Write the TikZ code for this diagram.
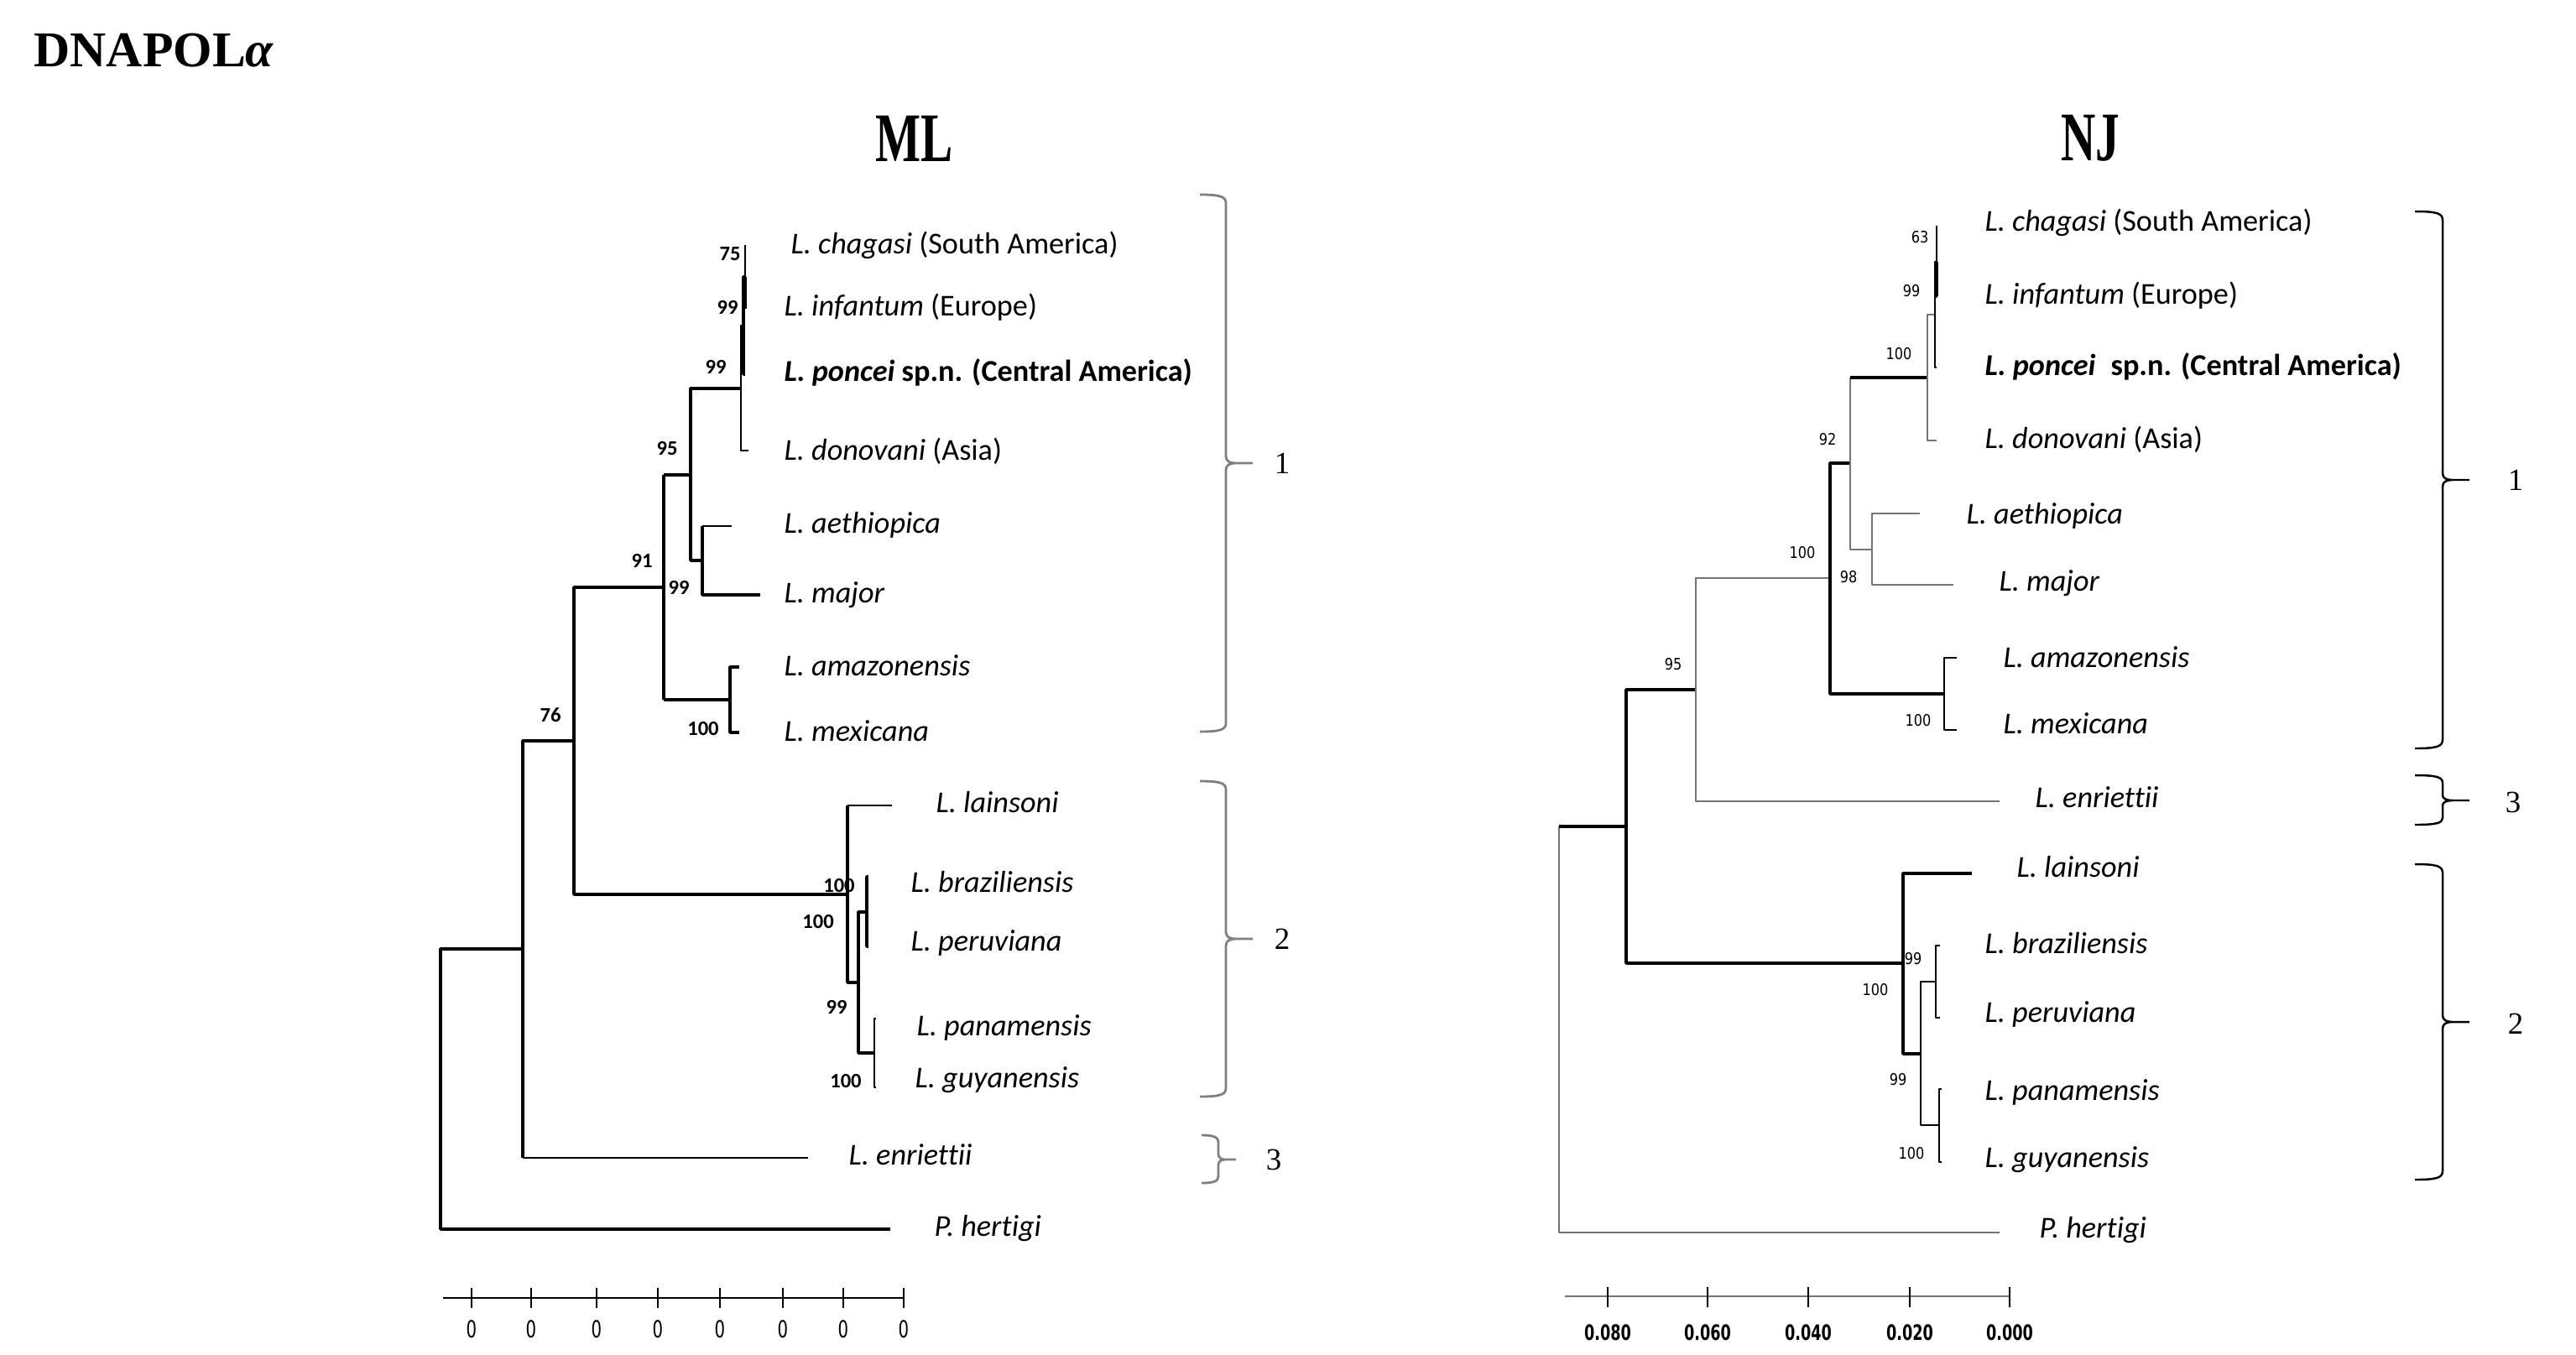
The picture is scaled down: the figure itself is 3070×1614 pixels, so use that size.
\documentclass[tikz,border=0pt]{standalone}
\usepackage{fontspec}
\setmainfont[Ligatures=NoCommon]{Carlito}
\newfontfamily\ttlfont{Liberation Serif}
\newfontfamily\hdfont[FakeStretch=0.69]{Liberation Serif}
\newfontfamily\bsfont[FakeStretch=0.85]{DejaVu Sans}
\newfontfamily\axfont[FakeStretch=0.7]{DejaVu Sans}

\begin{document}
\begin{tikzpicture}[x=0.1mm,y=-0.1mm,line join=bevel,
  leaf/.style={anchor=west,inner sep=0pt,text height=0.7em,text depth=0.2em,font=\fontsize{10.3}{12}\selectfont},
  bsml/.style={inner sep=0pt,font=\fontsize{7}{8}\selectfont\bfseries},
  bsnj/.style={inner sep=0pt,font=\bsfont\fontsize{5.4}{6}\selectfont},
  axml/.style={inner sep=0pt,font=\axfont\fontsize{8}{9}\selectfont},
  axnj/.style={inner sep=0pt,font=\axfont\bfseries\fontsize{7.2}{8}\selectfont},
  head/.style={inner sep=0pt,font=\hdfont\bfseries\fontsize{23.6}{26}\selectfont},
  cladeno/.style={inner sep=0pt,font=\ttlfont\fontsize{10.5}{12}\selectfont},
  thinbr/.style={line width=0.55pt},
  midbr/.style={line width=0.9pt},
  thickbr/.style={line width=1.3pt},
  greybr/.style={line width=0.55pt,draw=black!55},
  mlbrace/.style={line width=0.8pt,draw=black!50},
  njbrace/.style={line width=0.7pt},
]
\useasboundingbox (0,0) rectangle (3070,1614);
%%
\node[inner sep=0pt,anchor=west,font=\ttlfont\bfseries\fontsize{17}{20}\selectfont] (title) at (40,60) {DNAPOL\textit{α}};
\node[head] (mlhead) at (1090,165) {ML};
\node[head] (njhead) at (2491,165) {NJ};
%
% ML tree
\coordinate (rootML) at (525,1298);
\coordinate (gML) at (623,1131);
\coordinate (fML) at (684,883);
\coordinate (eML) at (791,700);
\coordinate (dML) at (823,566);
\coordinate (cML) at (883,463);
\coordinate (bML) at (886,388);
\coordinate (aML) at (888,330);
\coordinate (amML) at (837,668);
\coordinate (axML) at (870,834);
\coordinate (hML) at (1010,1066);
\coordinate (jML) at (1023,1171);
\coordinate (iML) at (1033,1087);
\coordinate (kML) at (1042,1255);
\coordinate (tChaML) at (888,292);
\coordinate (tInfML) at (888,368);
\coordinate (tPonML) at (888,446);
\coordinate (tDonML) at (892,537);
\coordinate (tAetML) at (872,627);
\coordinate (tMajML) at (906,709);
\coordinate (tAmaML) at (881,795);
\coordinate (tMexML) at (881,873);
\coordinate (tLaiML) at (1063,960);
\coordinate (tBraML) at (1035,1045);
\coordinate (tPerML) at (1035,1128);
\coordinate (tPanML) at (1044,1214);
\coordinate (tGuyML) at (1044,1296);
\coordinate (tEnrML) at (963,1380);
\coordinate (tHerML) at (1061,1465);
\draw[thickbr] (rootML) |- (gML);
\draw[thickbr] (rootML) |- (tHerML);
\draw[thickbr] (gML) |- (fML);
\draw[thickbr] (gML) -- (gML |- tEnrML);
\draw[thinbr] (gML |- tEnrML) -- (tEnrML);
\draw[thickbr] (fML) |- (eML);
\draw[thickbr] (fML) |- (hML);
\draw[thickbr] (eML) -- (eML |- dML);
\draw[midbr] (eML |- dML) -- (dML);
\draw[thickbr] (eML) -- (eML |- axML);
\draw[midbr] (eML |- axML) -- (axML);
\draw[midbr] (dML) |- (cML);
\draw[midbr] (dML) |- (amML);
\draw[midbr] (amML) -- (amML |- tAetML);
\draw[thinbr] (amML |- tAetML) -- (tAetML);
\draw[thickbr] (amML) |- (tMajML);
\draw[midbr] (axML) |- (tAmaML);
\draw[midbr] (axML) |- (tMexML);
\draw[thinbr] (cML) |- (bML);
\draw[thinbr] (cML) |- (tDonML);
\draw[thickbr] (bML) |- (aML);
\draw[thickbr] (bML) |- (tPonML);
\draw[thinbr] (aML) |- (tChaML);
\draw[thickbr] (aML) |- (tInfML);
\draw[thickbr] (hML) -- (hML |- tLaiML);
\draw[thinbr] (hML |- tLaiML) -- (tLaiML);
\draw[thickbr] (hML) |- (jML);
\draw[midbr] (jML) |- (iML);
\draw[midbr] (jML) |- (kML);
\draw[thickbr] (iML) |- (tBraML);
\draw[thickbr] (iML) |- (tPerML);
\draw[thinbr] (kML) |- (tPanML);
\draw[thinbr] (kML) |- (tGuyML);
%
\node[leaf] (chaML) at (942,294) {\textit{L. chagasi} (South America)};
\node[leaf] (infML) at (934,368) {\textit{L. infantum} (Europe)};
\node[leaf] (ponML) at (934,446) {\textbf{\textit{L. poncei}} \textbf{sp.n. (Central America)}};
\node[leaf] (donML) at (934,540) {\textit{L. donovani} (Asia)};
\node[leaf] (aetML) at (934,627) {\textit{L. aethiopica}};
\node[leaf] (majML) at (934,710) {\textit{L. major}};
\node[leaf] (amaML) at (934,797) {\textit{L. amazonensis}};
\node[leaf] (mexML) at (934,875) {\textit{L. mexicana}};
\node[leaf] (laiML) at (1115,960) {\textit{L. lainsoni}};
\node[leaf] (braML) at (1085,1055) {\textit{L. braziliensis}};
\node[leaf] (perML) at (1085,1125) {\textit{L. peruviana}};
\node[leaf] (panML) at (1092,1226) {\textit{L. panamensis}};
\node[leaf] (guyML) at (1090,1288) {\textit{L. guyanensis}};
\node[leaf] (enrML) at (1011,1380) {\textit{L. enriettii}};
\node[leaf] (herML) at (1113,1465) {\textit{P. hertigi}};
%
\node[bsml] (bs1ML) at (870,303) {75};
\node[bsml] (bs2ML) at (867,366) {99};
\node[bsml] (bs3ML) at (853,437) {99};
\node[bsml] (bs4ML) at (795,535) {95};
\node[bsml] (bs5ML) at (765,668) {91};
\node[bsml] (bs6ML) at (809,700) {99};
\node[bsml] (bs7ML) at (838,868) {100};
\node[bsml] (bs8ML) at (656,852) {76};
\node[bsml] (bs9ML) at (1000,1056) {100};
\node[bsml] (bs10ML) at (975,1098) {100};
\node[bsml] (bs11ML) at (997,1200) {99};
\node[bsml] (bs12ML) at (1008,1288) {100};
%
% ML scale
\draw[thinbr] (528,1547) -- (1077,1547);
\draw[thinbr] (562,1535) -- (562,1559);
\draw[thinbr] (633,1535) -- (633,1559);
\draw[thinbr] (711,1535) -- (711,1559);
\draw[thinbr] (784,1535) -- (784,1559);
\draw[thinbr] (858,1535) -- (858,1559);
\draw[thinbr] (933,1535) -- (933,1559);
\draw[thinbr] (1005,1535) -- (1005,1559);
\draw[thinbr] (1077,1535) -- (1077,1559);
\node[axml] (ml0a) at (562,1584) {0};
\node[axml] (ml0b) at (633,1584) {0};
\node[axml] (ml0c) at (711,1584) {0};
\node[axml] (ml0d) at (784,1584) {0};
\node[axml] (ml0e) at (858,1584) {0};
\node[axml] (ml0f) at (933,1584) {0};
\node[axml] (ml0g) at (1005,1584) {0};
\node[axml] (ml0h) at (1077,1584) {0};
%
% ML clades
\draw[mlbrace] (1430,232) .. controls (1453,232) and (1461,234) .. (1461,242) -- (1461,544) .. controls (1461,550) and (1466,552) .. (1473,552) -- (1493,552) -- (1473,552) .. controls (1466,552) and (1461,554) .. (1461,560) -- (1461,862) .. controls (1461,870) and (1453,872) .. (1430,872);
\draw[mlbrace] (1430,931) .. controls (1453,931) and (1461,933) .. (1461,941) -- (1461,1111) .. controls (1461,1117) and (1466,1119) .. (1473,1119) -- (1493,1119) -- (1473,1119) .. controls (1466,1119) and (1461,1121) .. (1461,1127) -- (1461,1297) .. controls (1461,1305) and (1453,1307) .. (1430,1307);
\draw[mlbrace] (1432,1353) .. controls (1446,1353) and (1452,1355) .. (1452,1362) -- (1452,1376) .. controls (1452,1380) and (1456,1382) .. (1460,1382) -- (1473,1382) -- (1460,1382) .. controls (1456,1382) and (1452,1384) .. (1452,1388) -- (1452,1402) .. controls (1452,1408) and (1446,1410) .. (1432,1410);
\node[cladeno] (c1ML) at (1528,552) {1};
\node[cladeno] (c2ML) at (1528,1119) {2};
\node[cladeno] (c3ML) at (1518,1382) {3};
%
% NJ tree
\coordinate (rootNJ) at (1858,1227);
\coordinate (n1NJ) at (1938,985);
\coordinate (n95NJ) at (2021,822);
\coordinate (n100NJ) at (2181,689);
\coordinate (n92NJ) at (2205,552);
\coordinate (cNJ) at (2297,450);
\coordinate (bNJ) at (2306,375);
\coordinate (aNJ) at (2308,312);
\coordinate (amNJ) at (2231,655);
\coordinate (axNJ) at (2317,827);
\coordinate (lNJ) at (2268,1148);
\coordinate (j2NJ) at (2289,1256);
\coordinate (bpNJ) at (2307,1170);
\coordinate (pgNJ) at (2311,1341);
\coordinate (tChaNJ) at (2309,270);
\coordinate (tInfNJ) at (2309,353);
\coordinate (tPonNJ) at (2308,438);
\coordinate (tDonNJ) at (2308,525);
\coordinate (tAetNJ) at (2288,612);
\coordinate (tMajNJ) at (2328,697);
\coordinate (tAmaNJ) at (2332,784);
\coordinate (tMexNJ) at (2332,870);
\coordinate (tEnrNJ) at (2383,955);
\coordinate (tLaiNJ) at (2350,1041);
\coordinate (tBraNJ) at (2312,1127);
\coordinate (tPerNJ) at (2312,1213);
\coordinate (tPanNJ) at (2314,1298);
\coordinate (tGuyNJ) at (2314,1385);
\coordinate (tHerNJ) at (2383,1469);
\draw[greybr] (rootNJ) -- (rootNJ |- n1NJ);
\draw[midbr] (rootNJ |- n1NJ) -- (n1NJ);
\draw[greybr] (rootNJ) |- (tHerNJ);
\draw[thickbr] (n1NJ) |- (n95NJ);
\draw[thickbr] (n1NJ) |- (lNJ);
\draw[greybr] (n95NJ) |- (n100NJ);
\draw[greybr] (n95NJ) |- (tEnrNJ);
\draw[thickbr] (n100NJ) |- (n92NJ);
\draw[thickbr] (n100NJ) |- (axNJ);
\draw[greybr] (n92NJ) -- (n92NJ |- cNJ);
\draw[midbr] (n92NJ |- cNJ) -- (cNJ);
\draw[greybr] (n92NJ) |- (amNJ);
\draw[greybr] (amNJ) |- (tAetNJ);
\draw[greybr] (amNJ) |- (tMajNJ);
\draw[thinbr] (axNJ) |- (tAmaNJ);
\draw[thinbr] (axNJ) |- (tMexNJ);
\draw[greybr] (cNJ) |- (bNJ);
\draw[greybr] (cNJ) |- (tDonNJ);
\draw[thinbr] (bNJ) |- (aNJ);
\draw[thinbr] (bNJ) |- (tPonNJ);
\draw[thinbr] (aNJ) |- (tChaNJ);
\draw[thickbr] (aNJ) |- (tInfNJ);
\draw[midbr] (lNJ) |- (tLaiNJ);
\draw[midbr] (lNJ) |- (j2NJ);
\draw[thinbr] (j2NJ) |- (bpNJ);
\draw[thinbr] (j2NJ) |- (pgNJ);
\draw[thinbr] (bpNJ) |- (tBraNJ);
\draw[thinbr] (bpNJ) |- (tPerNJ);
\draw[thinbr] (pgNJ) |- (tPanNJ);
\draw[thinbr] (pgNJ) |- (tGuyNJ);
%
\node[leaf] (chaNJ) at (2365,267) {\textit{L. chagasi} (South America)};
\node[leaf] (infNJ) at (2365,354) {\textit{L. infantum} (Europe)};
\node[leaf] (ponNJ) at (2365,439) {\textbf{\textit{L. poncei}}\hspace{0.5em}\textbf{sp.n. (Central America)}};
\node[leaf] (donNJ) at (2365,526) {\textit{L. donovani} (Asia)};
\node[leaf] (aetNJ) at (2343,616) {\textit{L. aethiopica}};
\node[leaf] (majNJ) at (2382,696) {\textit{L. major}};
\node[leaf] (amaNJ) at (2387,787) {\textit{L. amazonensis}};
\node[leaf] (mexNJ) at (2387,866) {\textit{L. mexicana}};
\node[leaf] (enrNJ) at (2425,954) {\textit{L. enriettii}};
\node[leaf] (laiNJ) at (2403,1037) {\textit{L. lainsoni}};
\node[leaf] (braNJ) at (2365,1128) {\textit{L. braziliensis}};
\node[leaf] (perNJ) at (2365,1210) {\textit{L. peruviana}};
\node[leaf] (panNJ) at (2365,1303) {\textit{L. panamensis}};
\node[leaf] (guyNJ) at (2365,1383) {\textit{L. guyanensis}};
\node[leaf] (herNJ) at (2430,1467) {\textit{P. hertigi}};
%
\node[bsnj] (bs1NJ) at (2288,283) {63};
\node[bsnj] (bs2NJ) at (2278,347) {99};
\node[bsnj] (bs3NJ) at (2263,422) {100};
\node[bsnj] (bs4NJ) at (2178,524) {92};
\node[bsnj] (bs5NJ) at (2148,659) {100};
\node[bsnj] (bs6NJ) at (2203,688) {98};
\node[bsnj] (bs7NJ) at (1994,792) {95};
\node[bsnj] (bs8NJ) at (2286,859) {100};
\node[bsnj] (bs9NJ) at (2280,1143) {99};
\node[bsnj] (bs10NJ) at (2235,1180) {100};
\node[bsnj] (bs11NJ) at (2262,1287) {99};
\node[bsnj] (bs12NJ) at (2278,1375) {100};
%
% NJ scale
\draw[greybr] (1865,1545) -- (2395,1545);
\draw[thinbr] (1916,1534) -- (1916,1558);
\draw[thinbr] (2035,1534) -- (2035,1558);
\draw[thinbr] (2155,1534) -- (2155,1558);
\draw[thinbr] (2276,1534) -- (2276,1558);
\draw[thinbr] (2395,1534) -- (2395,1558);
\node[axnj] (nj080) at (1916,1588) {0.080};
\node[axnj] (nj060) at (2035,1588) {0.060};
\node[axnj] (nj040) at (2155,1588) {0.040};
\node[axnj] (nj020) at (2276,1588) {0.020};
\node[axnj] (nj000) at (2395,1588) {0.000};
%
% NJ clades
\draw[njbrace] (2878,252) .. controls (2903,252) and (2911,254) .. (2911,262) -- (2911,564) .. controls (2911,570) and (2916,572) .. (2923,572) -- (2943,572) -- (2923,572) .. controls (2916,572) and (2911,574) .. (2911,580) -- (2911,882) .. controls (2911,890) and (2903,892) .. (2878,892);
\draw[njbrace] (2878,924) .. controls (2903,924) and (2911,926) .. (2911,933) -- (2911,948) .. controls (2911,952) and (2916,954) .. (2923,954) -- (2943,954) -- (2923,954) .. controls (2916,954) and (2911,956) .. (2911,960) -- (2911,975) .. controls (2911,981) and (2903,983) .. (2878,983);
\draw[njbrace] (2878,1030) .. controls (2903,1030) and (2911,1032) .. (2911,1040) -- (2911,1210) .. controls (2911,1216) and (2916,1218) .. (2923,1218) -- (2943,1218) -- (2923,1218) .. controls (2916,1218) and (2911,1220) .. (2911,1226) -- (2911,1396) .. controls (2911,1404) and (2903,1406) .. (2878,1406);
\node[cladeno] (c1NJ) at (2998,572) {1};
\node[cladeno] (c3NJ) at (2995,956) {3};
\node[cladeno] (c2NJ) at (2998,1220) {2};
%
\end{tikzpicture}
\end{document}
